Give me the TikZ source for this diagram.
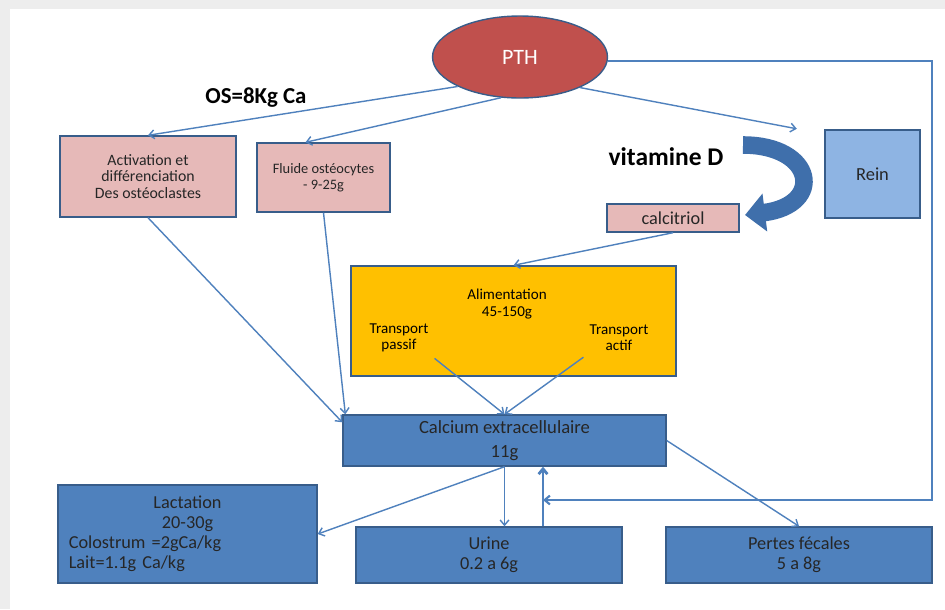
\documentclass[tikz,border=0pt]{standalone}
\usepackage{fontspec}
\setmainfont{Carlito}
\usepackage{tikz}
\usetikzlibrary{arrows.meta, positioning, calc, shapes.geometric}

\definecolor{pthred}{HTML}{C0504D}
\definecolor{pinkfill}{HTML}{E6B9B8}
\definecolor{bluefill}{HTML}{4F81BD}
\definecolor{reinfill}{HTML}{8EB4E3}
\definecolor{alimfill}{HTML}{FFC000}
\definecolor{boxedge}{HTML}{385D8A}
\definecolor{linkblue}{HTML}{4F81BD}
\definecolor{vitblue}{HTML}{3F6FAB}

\begin{document}
\begin{tikzpicture}[x=0.02cm, y=-0.02cm,
    box/.style={draw=boxedge, line width=0.8pt, inner sep=1pt, align=center, text=black!85},
    pinkbox/.style={box, fill=pinkfill},
    bluebox/.style={box, fill=bluefill},
    link/.style={draw=linkblue, line width=0.8pt, -{Straight Barb[length=3pt,width=5pt]}}]
  % fond et cadre
  \useasboundingbox (0,0) rectangle (945,609);
  \fill[black!7] (0,0) rectangle (945,609);
  \fill[white] (10,9) rectangle (945,609);

  % hormone
  \node[ellipse, draw=boxedge, line width=0.8pt, fill=pthred, text=white,
    minimum width=3.5cm, minimum height=1.64cm, font=\fontsize{12.5}{14}\selectfont] (pth) at (520,57) {PTH};
  \node[font=\fontsize{13}{15}\selectfont\bfseries] (os) at (256,98) {OS=8Kg Ca};

  % os
  \node[pinkbox, minimum width=3.52cm, minimum height=1.62cm, font=\fontsize{9}{9.3}\selectfont] (act) at (148,176.5)
    {Activation et\\différenciation\\Des ostéoclastes};
  \node[pinkbox, minimum width=2.66cm, minimum height=1.38cm, font=\fontsize{8.2}{9.2}\selectfont] (fluide) at (323.5,177.5)
    {Fluide ostéocytes\\- 9-25g};

  % rein et vitamine D
  \node[box, fill=reinfill, line width=1.4pt, minimum width=1.9cm, minimum height=1.76cm,
    font=\fontsize{10.5}{12}\selectfont] (rein) at (872.5,174) {Rein};
  \node[pinkbox, minimum width=2.64cm, minimum height=0.56cm, font=\fontsize{10.4}{12}\selectfont] (calci) at (673,218) {calcitriol};
  \node[font=\fontsize{14.5}{16}\selectfont\bfseries] (vitd) at (666,157) {vitamine D};
  \draw[vitblue, line width=10pt, -{Triangle[length=0.4cm, width=0.74cm]}]
    (743,145) .. controls (815,145) and (825,205) .. (745,215);

  % alimentation
  \node[box, fill=alimfill, minimum width=6.5cm, minimum height=2.2cm] (alim) at (513.5,321) {};
  \node[font=\fontsize{8.6}{9.2}\selectfont, align=center] (alimtxt) at (507,304) {Alimentation\\45-150g};
  \node[font=\fontsize{8.6}{9.2}\selectfont, align=center] (tpass) at (399,338) {Transport\\passif};
  \node[font=\fontsize{8.6}{9.2}\selectfont, align=center] (tact) at (619,338) {Transport\\actif};

  % compartiments
  \node[bluebox, minimum width=6.46cm, minimum height=1.02cm, font=\fontsize{10.6}{14}\selectfont] (ca) at (504.5,440.5)
    {Calcium extracellulaire\\11g};
  \node[bluebox, minimum width=5.18cm, minimum height=1.96cm, text width=4.75cm, align=left,
    font=\fontsize{10.4}{11.4}\selectfont] (lact) at (187.5,534)
    {\centering Lactation\\20-30g\par\raggedright Colostrum =2gCa/kg\\Lait=1.1g Ca/kg\par};
  \node[bluebox, minimum width=5.32cm, minimum height=1.12cm, font=\fontsize{10.4}{11.4}\selectfont] (urine) at (489,555)
    {Urine\\0.2 a 6g};
  \node[bluebox, minimum width=5.32cm, minimum height=1.12cm, font=\fontsize{10.4}{11.4}\selectfont] (pertes) at (799,555)
    {Pertes fécales\\5 a 8g};

  % fleches PTH
  \draw[link] (pth.south west) -- (act.north);
  \draw[link] (pth.245) -- ($(fluide.north)+(-18,0)$);
  \draw[link] (pth.-27) -- ($(rein.north west)+(-27,0)$);
  \coordinate (coin) at (932,500);
  \coordinate (retour) at (543,500);
  \draw[link, line width=1.2pt] ($(pth.east)+(0,4)$) -| (coin) -- (retour);

  % vers le calcium extracellulaire
  \draw[link] (act.south) -- ($(ca.north west)+(0,8)$);
  \draw[link] (fluide.south) -- ($(ca.north west)+(3,0)$);
  \draw[link] (calci.south) -- (alim.north);
  \draw[link] (tpass.south east) -- (ca.north);
  \draw[link] (tact.south west) -- (ca.north);

  % sorties
  \draw[link] (ca.south) -- (lact.east);
  \draw[link] (ca.south) -- (ca.south |- urine.north);
  \draw[link, line width=1.6pt] (retour |- urine.north) -- (retour |- ca.south);
  \draw[link] (ca.east) -- (pertes.north);
\end{tikzpicture}
\end{document}
